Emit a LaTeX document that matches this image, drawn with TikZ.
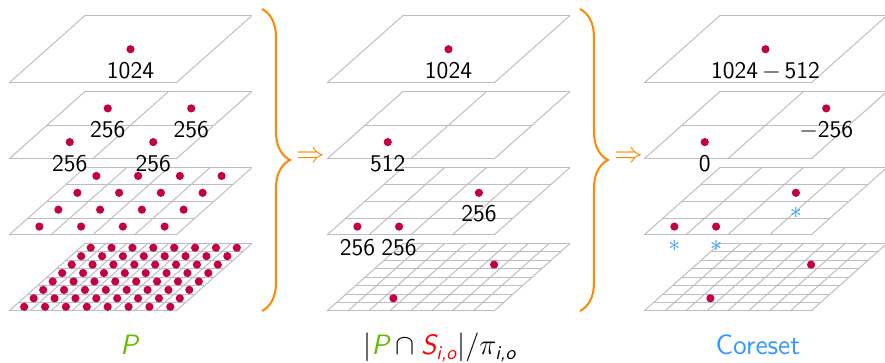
\documentclass[tikz,border=0pt]{standalone}
\usepackage{amsmath,amssymb}
\usepackage{tikz}
\usetikzlibrary{decorations.pathreplacing}

\definecolor{dotred}{RGB}{196,0,72}
\definecolor{gridgray}{RGB}{190,190,190}
\definecolor{braceorange}{RGB}{255,136,0}
\definecolor{pgreen}{RGB}{102,187,0}
\definecolor{pred}{RGB}{255,0,0}
\definecolor{coreblue}{RGB}{51,153,255}

\begin{document}
\begin{tikzpicture}[
    x=0.5pt, y=-0.5pt,
    font=\sffamily\fontsize{12}{14}\selectfont,
    label distance=4pt,
    gridln/.style={draw=gridgray, line width=0.5pt},
    pnt/.style={circle, fill=dotred, inner sep=0pt, minimum size=4.1pt},
    val/.style={inner sep=0pt},
    hit/.style={inner sep=0pt, text=coreblue, yshift=-0.6pt},
    brc/.style={draw=braceorange, line width=1pt, decorate,
                decoration={brace, amplitude=14pt}},
    implies/.style={text=braceorange, inner sep=0pt,
                    font=\fontsize{14}{17}\selectfont},
    lab/.style={anchor=base, inner sep=0pt,
                font=\sffamily\fontsize{14}{17}\selectfont},
]
\useasboundingbox (0,0) rectangle (885,363);

%% ---- GRIDS: three panels, four layers each (1x1, 2x2, 4x4, 8x8) ----
\foreach \px in {0,318,635}
  \foreach \by/\n in {83/1,159/2,235/4,311/8}
    \foreach \k in {0,...,\n} {
      \draw[gridln] ({9+\px+167*\k/\n},\by) -- ({85+\px+167*\k/\n},{\by-67.5});
      \draw[gridln] ({9+\px+76*\k/\n},{\by-67.5*\k/\n})
                 -- ({176+\px+76*\k/\n},{\by-67.5*\k/\n});
    }

%% ---- LEFT PANEL: input points P ----
\node[pnt, label={[val]below:1024}] (a1) at (130.5,49.25) {};
\node[pnt, label={[val]below:256}] (a2-00) at (69.75,142.1) {};
\node[pnt, label={[val]below:256}] (a2-10) at (153.25,142.1) {};
\node[pnt, label={[val]below:256}] (a2-01) at (107.75,108.4) {};
\node[pnt, label={[val]below:256}] (a2-11) at (191.25,108.4) {};
\foreach \i in {0,...,3}
  \foreach \j in {0,...,3}
    \node[pnt] (a3-\i\j) at ({9+167*(\i+0.5)/4+76*(\j+0.5)/4},{235-67.5*(\j+0.5)/4}) {};
\foreach \i in {0,...,7}
  \foreach \j in {0,...,7}
    \node[pnt] (a4-\i\j) at ({9+167*(\i+0.5)/8+76*(\j+0.5)/8},{311-67.5*(\j+0.5)/8}) {};

%% ---- MIDDLE PANEL: sampled cells ----
\node[pnt, label={[val]below:1024}] (b1) at (448.5,49.25) {};
\node[pnt, label={[val]below:512}] (b2) at (387.75,142.1) {};
\node[pnt, label={[val]below:256}] (b3a) at (478.9,192.8) {};
\node[pnt, label={[val]below:256}] (b3b) at (357.4,226.6) {};
\node[pnt, label={[val]below:256}] (b3c) at (399.1,226.6) {};
\node[pnt] (b4a) at (494.1,264.6) {};
\node[pnt] (b4b) at (393.4,298.3) {};

%% ---- RIGHT PANEL: coreset weights ----
\node[pnt, label={[val]below:1024\,$-$\,512}] (c1) at (765.5,49.25) {};
\node[pnt, label={[val]below:0}] (c2a) at (704.75,142.1) {};
\node[pnt, label={[val]below:$-$256}] (c2b) at (826.25,108.4) {};
\node[pnt, label={[hit]below:$\ast$}] (c3a) at (795.9,192.8) {};
\node[pnt, label={[hit]below:$\ast$}] (c3b) at (674.4,226.6) {};
\node[pnt, label={[hit]below:$\ast$}] (c3c) at (716.1,226.6) {};
\node[pnt] (c4a) at (811.1,264.6) {};
\node[pnt] (c4b) at (710.4,298.3) {};

%% ---- braces and implication arrows ----
\coordinate (br1top) at (262,9);
\coordinate (br1bot) at (262,311);
\coordinate (br2top) at (580,9);
\coordinate (br2bot) at (580,311);
\draw[brc] (br1top) -- (br1bot);
\draw[brc] (br2top) -- (br2bot);
\node[implies] (imp1) at (311,157) {$\Rightarrow$};
\node[implies] (imp2) at (629,157) {$\Rightarrow$};

%% ---- captions ----
\node[lab, text=pgreen] (capP) at (130,355) {\textit{P}};
\node[lab] (capS) at (440,355)
    {$|\textcolor{pgreen}{\textit{P}}\cap\textcolor{pred}{\textit{S}_{\textit{i,o}}}|/\pi_{\textit{i,o}}$};
\node[lab, text=coreblue] (capC) at (758,355) {Coreset};

\end{tikzpicture}
\end{document}
